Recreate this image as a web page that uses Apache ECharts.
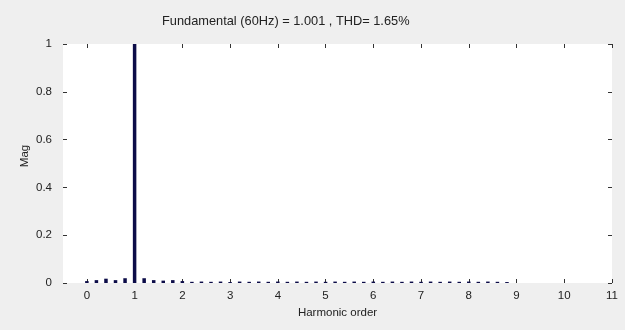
<!DOCTYPE html>
<html>
<head>
<meta charset="utf-8">
<script src="https://cdn.jsdelivr.net/npm/echarts@6/dist/echarts.min.js"></script>
<style>
  html, body { margin: 0; padding: 0; background: #efefef; }
  #chart { width: 625px; height: 330px; }
</style>
</head>
<body>
<div id="chart"></div>
<script>
  // harmonic order of each FFT bin (60 Hz fundamental, 0.2 step)
  const harmonicOrder = [
    0, 0.2, 0.4, 0.6, 0.8, 1, 1.2, 1.4, 1.6, 1.8,
    2, 2.2, 2.4, 2.6, 2.8, 3, 3.2, 3.4, 3.6, 3.8,
    4, 4.2, 4.4, 4.6, 4.8, 5, 5.2, 5.4, 5.6, 5.8,
    6, 6.2, 6.4, 6.6, 6.8, 7, 7.2, 7.4, 7.6, 7.8,
    8, 8.2, 8.4, 8.6, 8.8
  ];
  // magnitude relative to fundamental
  const magnitude = [
    0.008, 0.012, 0.018, 0.012, 0.02, 1.0, 0.02, 0.012, 0.01, 0.012,
    0.008, 0.005, 0.006, 0.005, 0.006, 0.004, 0.006, 0.005, 0.006, 0.005,
    0.006, 0.005, 0.006, 0.005, 0.006, 0.005, 0.006, 0.005, 0.006, 0.005,
    0.006, 0.005, 0.006, 0.005, 0.006, 0.005, 0.006, 0.005, 0.006, 0.005,
    0.006, 0.005, 0.006, 0.005, 0.004
  ];
  const xTicks = [0, 1, 2, 3, 4, 5, 6, 7, 8, 9, 10, 11];
  const titleText = 'Fundamental (60Hz) = 1.001 , THD= 1.65%';
  const yName = 'Mag';

  const chart = echarts.init(document.getElementById('chart'));
  const font = 'Liberation Sans, Arial, sans-serif';
  const tickStyle = { inside: true, length: 4, lineStyle: { color: '#333', width: 1 } };
  const noLine = { show: false, onZero: false };

  const option = {
    backgroundColor: '#efefef',
    animation: false,
    title: {
      text: titleText,
      left: 157,
      top: 10,
      textStyle: { fontFamily: font, fontSize: 12.8, fontWeight: 'normal', color: '#222' }
    },
    grid: {
      left: 63, right: 13, top: 44, bottom: 47,
      show: true, backgroundColor: '#ffffff', borderWidth: 0
    },
    // y axis name placed by hand (axis name gets pushed away from labels)
    graphic: [
      {
        type: 'text',
        x: 25,
        y: 156,
        rotation: Math.PI / 2,
        style: {
          text: yName,
          font: '11.5px ' + font,
          fill: '#222',
          align: 'center',
          verticalAlign: 'middle'
        }
      }
    ],
    xAxis: [
      {
        type: 'value',
        min: -0.5, max: 11,
        name: 'Harmonic order',
        nameLocation: 'middle',
        nameGap: 23,
        nameTextStyle: { fontFamily: font, fontSize: 11.5, color: '#222' },
        axisLine: noLine,
        axisTick: Object.assign({ customValues: xTicks }, tickStyle),
        axisLabel: { customValues: xTicks, fontFamily: font, fontSize: 11.5, color: '#222', margin: 7 },
        splitLine: { show: false }
      },
      {
        type: 'value',
        position: 'top',
        min: -0.5, max: 11,
        axisLine: noLine,
        axisTick: Object.assign({ customValues: xTicks }, tickStyle),
        axisLabel: { show: false },
        splitLine: { show: false }
      }
    ],
    yAxis: [
      {
        type: 'value',
        min: 0, max: 1, interval: 0.2,
        axisLine: noLine,
        axisTick: tickStyle,
        axisLabel: { fontFamily: font, fontSize: 11.5, color: '#222', margin: 11 },
        splitLine: { show: false }
      },
      {
        type: 'value',
        position: 'right',
        min: 0, max: 1, interval: 0.2,
        axisLine: noLine,
        axisTick: tickStyle,
        axisLabel: { show: false },
        splitLine: { show: false }
      }
    ],
    series: [
      {
        type: 'bar',
        xAxisIndex: 0,
        yAxisIndex: 0,
        barWidth: 3.5,
        itemStyle: { color: '#0c0c48' },
        data: harmonicOrder.map((h, i) => [h, magnitude[i]])
      }
    ]
  };
  chart.setOption(option);
</script>
</body>
</html>
